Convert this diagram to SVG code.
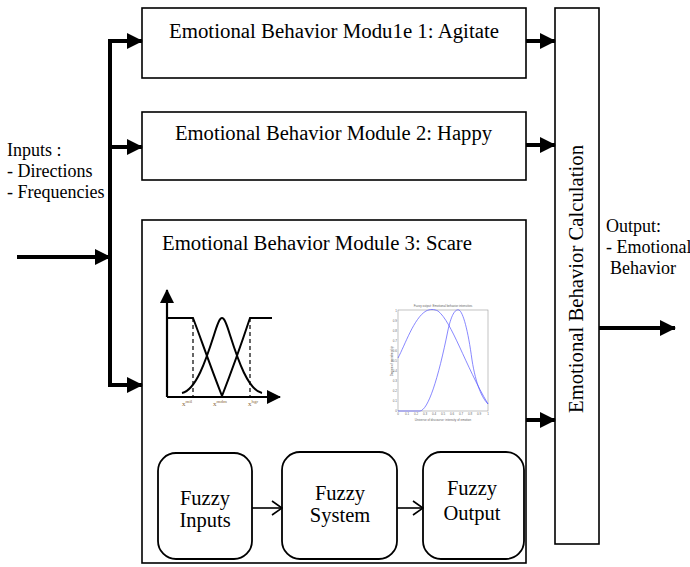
<svg xmlns="http://www.w3.org/2000/svg" width="690" height="567" viewBox="0 0 690 567" font-family="Liberation Serif, Tinos, Times New Roman, Times, DejaVu Serif, Noto Serif, serif">
<style>
.box{fill:#fff;stroke:#000;stroke-width:1.6}
.rbox{fill:#fff;stroke:#000;stroke-width:1.8}
.t{font-size:20.5px;fill:#000}
.s{font-size:18px;fill:#000}
.thick{stroke:#000;stroke-width:4;fill:none}
.thin{stroke:#000;stroke-width:1.6;fill:none}
.tiny{font-family:'Liberation Sans',Arial,sans-serif;font-size:3px;fill:#666}
.lbl{font-size:7px;fill:#8a6a3a}
</style>
<defs>
<marker id="ah" markerUnits="userSpaceOnUse" markerWidth="16" markerHeight="16" viewBox="0 0 16 16" refX="15" refY="8" orient="auto"><path d="M0,0 L16,8 L0,16 Z" fill="#000"/></marker>
<marker id="oa" markerUnits="userSpaceOnUse" markerWidth="12" markerHeight="16" viewBox="0 0 12 16" refX="11" refY="8" orient="auto"><path d="M1,1 L11,8 L1,15" fill="none" stroke="#000" stroke-width="1.6"/></marker>
<marker id="sa" markerUnits="userSpaceOnUse" markerWidth="14" markerHeight="14" viewBox="0 0 14 14" refX="13" refY="7" orient="auto"><path d="M0,0 L14,7 L0,14 Z" fill="#000"/></marker>
</defs>

<g id="module1">
<rect class="box" x="142" y="8" width="384" height="70"/>
<text class="t" font-family="Liberation Serif, serif" x="169" y="37.5" textLength="330" lengthAdjust="spacingAndGlyphs">Emotional Behavior Modu1e 1: Agitate</text>
</g>

<g id="module2">
<rect class="box" x="142" y="112" width="384" height="68"/>
<text class="t" font-family="Liberation Serif, serif" x="175" y="140" textLength="317" lengthAdjust="spacingAndGlyphs">Emotional Behavior Module 2: Happy</text>
</g>

<g id="module3">
<rect class="box" x="142" y="220" width="384" height="343"/>
<text class="t" font-family="Liberation Serif, serif" x="162" y="250" textLength="310" lengthAdjust="spacingAndGlyphs">Emotional Behavior Module 3: Scare</text>
</g>

<g id="membership-plot">
<line x1="167" y1="397" x2="167" y2="290" stroke="#000" stroke-width="2.2" marker-end="url(#sa)"/>
<line x1="167" y1="397" x2="280" y2="397" stroke="#000" stroke-width="2.2" marker-end="url(#sa)"/>
<path d="M167,318 L193,318 C200,336 208,360 222,396" stroke="#000" stroke-width="2" fill="none"/>
<path d="M222,396 C236,360 244,336 250,318 L272,318" stroke="#000" stroke-width="2" fill="none"/>
<path d="M182,393 C196,390 206,360 214,335 C218,322 220,318 222,318 C224,318 226,322 230,335 C238,360 248,390 262,393" stroke="#000" stroke-width="2" fill="none"/>
<line x1="193" y1="318" x2="193" y2="397" stroke="#000" stroke-width="1.2" stroke-dasharray="4,3"/>
<line x1="250" y1="318" x2="250" y2="397" stroke="#000" stroke-width="1.2" stroke-dasharray="4,3"/>
<text class="lbl" x="182" y="406">x<tspan dy="-3" font-size="5">mil</tspan></text>
<text class="lbl" x="213" y="406">x<tspan dy="-3" font-size="5">mdm</tspan></text>
<text class="lbl" x="248" y="406">x<tspan dy="-3" font-size="5">hgr</tspan></text>
</g>

<g id="output-plot">
<rect x="398" y="310" width="90" height="101" fill="#fff" stroke="#999" stroke-width="0.6"/>
<text class="tiny" x="443" y="307" text-anchor="middle">Fuzzy output: Emotional behavior intensities</text>
<text class="tiny" x="393" y="361" text-anchor="middle" transform="rotate(-90 393 361)">Degree of membership</text>
<text class="tiny" x="443" y="421" text-anchor="middle">Universe of discourse: intensity of emotion</text>
<g class="tiny" text-anchor="end">
<text x="397" y="312">1</text><text x="397" y="322">0.9</text><text x="397" y="332">0.8</text><text x="397" y="342">0.7</text><text x="397" y="352">0.6</text><text x="397" y="362">0.5</text><text x="397" y="372">0.4</text><text x="397" y="382">0.3</text><text x="397" y="392">0.2</text><text x="397" y="402">0.1</text><text x="397" y="412">0</text>
</g>
<g class="tiny" text-anchor="middle">
<text x="398" y="415">0</text><text x="407" y="415">0.1</text><text x="416" y="415">0.2</text><text x="425" y="415">0.3</text><text x="434" y="415">0.4</text><text x="443" y="415">0.5</text><text x="452" y="415">0.6</text><text x="461" y="415">0.7</text><text x="470" y="415">0.8</text><text x="479" y="415">0.9</text><text x="488" y="415">1</text>
</g>
<path d="M398,358 C405,345 414,318 426,311 C430,309 434,309 438,311 C452,322 465,365 488,404" stroke="#55f" stroke-width="0.7" fill="none"/>
<path d="M398,411 L420,411 C428,410 438,380 448,330 C452,312 456,309 459,310 C463,312 468,330 472,360 C476,385 482,398 488,404" stroke="#55f" stroke-width="0.7" fill="none"/>
</g>

<g id="fuzzy-inputs">
<rect class="rbox" x="158" y="453" width="94" height="106" rx="18"/>
<text class="t" x="205" y="505" text-anchor="middle">Fuzzy</text>
<text class="t" x="205" y="527" text-anchor="middle">Inputs</text>
</g>
<g id="fuzzy-system">
<rect class="rbox" x="282" y="452" width="115" height="107" rx="18"/>
<text class="t" x="340" y="500" text-anchor="middle">Fuzzy</text>
<text class="t" x="340" y="522" text-anchor="middle">System</text>
</g>
<g id="fuzzy-output">
<rect class="rbox" x="423" y="452" width="101" height="107" rx="18"/>
<text class="t" x="472" y="495" text-anchor="middle">Fuzzy</text>
<text class="t" x="472" y="520" text-anchor="middle">Output</text>
</g>

<g id="calculation">
<rect class="box" x="555" y="8" width="44" height="536"/>
<text class="t" transform="translate(583,279) rotate(-90)" text-anchor="middle" textLength="268" lengthAdjust="spacingAndGlyphs">Emotional Behavior Calculation</text>
</g>

<g id="labels">
<text class="s" x="7" y="156">Inputs :</text>
<text class="s" x="7" y="177">- Directions</text>
<text class="s" x="7" y="198">- Frequencies</text>
<text class="s" x="606" y="232">Output:</text>
<text class="s" x="606" y="253">- Emotional</text>
<text class="s" x="610" y="274">Behavior</text>
</g>

<g id="connectors">
<polyline class="thick" points="110,41 110,385 142,385" marker-end="url(#ah)"/>
<line class="thick" x1="108" y1="41" x2="142" y2="41" marker-end="url(#ah)"/>
<line class="thick" x1="110" y1="147" x2="142" y2="147" marker-end="url(#ah)"/>
<line class="thick" x1="17" y1="257" x2="110" y2="257" marker-end="url(#ah)"/>
<line class="thick" x1="526" y1="41" x2="555" y2="41" marker-end="url(#ah)"/>
<line class="thick" x1="526" y1="145" x2="555" y2="145" marker-end="url(#ah)"/>
<line class="thick" x1="526" y1="420" x2="555" y2="420" marker-end="url(#ah)"/>
<line class="thick" x1="599" y1="328" x2="675" y2="328" marker-end="url(#ah)"/>
<line class="thin" x1="252" y1="508" x2="282" y2="508" marker-end="url(#oa)"/>
<line class="thin" x1="397" y1="508" x2="423" y2="508" marker-end="url(#oa)"/>
</g>
</svg>
